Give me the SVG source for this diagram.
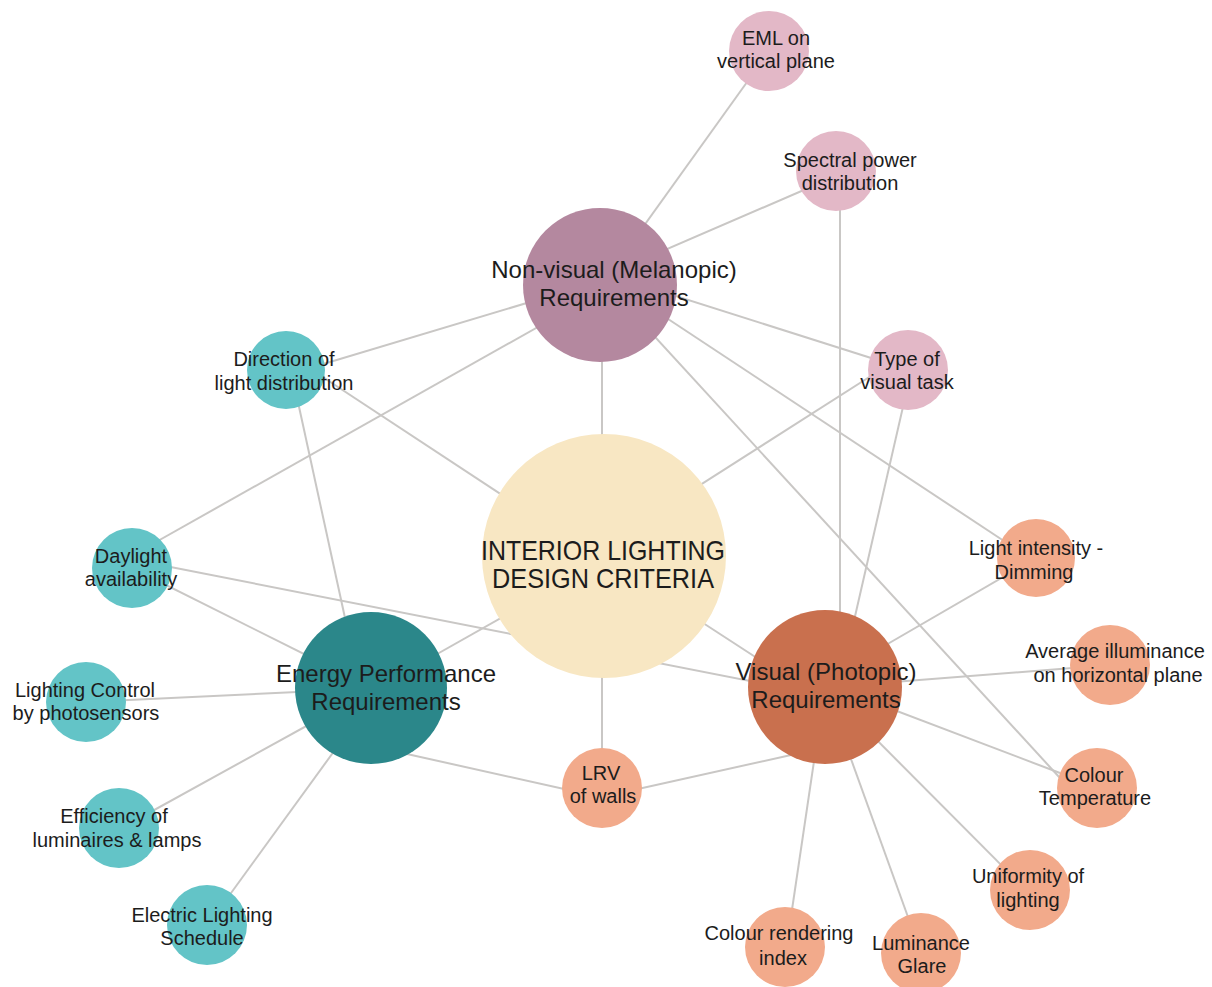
<svg xmlns="http://www.w3.org/2000/svg" width="1212" height="987" viewBox="0 0 1212 987">
<style>
.e{stroke:#C9C7C5;stroke-width:2;fill:none}
text{font-family:"Liberation Sans",Arial,sans-serif;fill:#1C1C1C;text-anchor:middle}
.s{font-size:20px}
.h{font-size:24px}
.teal{fill:#63C4C7}
.pink{fill:#E3B8C7}
.orng{fill:#F2AA8B}
</style>
<rect width="1212" height="987" fill="#FFFFFF"/>
<g id="connectors">
<line class="e" x1="600" y1="287" x2="760" y2="64"/>
<line class="e" x1="600" y1="278" x2="820" y2="183"/>
<line class="e" x1="600" y1="272" x2="890" y2="364"/>
<line class="e" x1="600" y1="274" x2="1010" y2="545"/>
<line class="e" x1="600" y1="277" x2="1060" y2="778"/>
<line class="e" x1="600" y1="281" x2="310" y2="368"/>
<line class="e" x1="600" y1="292" x2="140" y2="551"/>
<line class="e" x1="602" y1="300" x2="602" y2="470"/>
<line class="e" x1="650" y1="517" x2="885" y2="367"/>
<line class="e" x1="300" y1="362" x2="540" y2="520"/>
<line class="e" x1="400" y1="675" x2="540" y2="596"/>
<line class="e" x1="680" y1="608" x2="800" y2="686"/>
<line class="e" x1="602" y1="600" x2="602" y2="770"/>
<line class="e" x1="132" y1="568" x2="330" y2="667"/>
<line class="e" x1="140" y1="561" x2="780" y2="687"/>
<line class="e" x1="291" y1="370" x2="352" y2="650"/>
<line class="e" x1="86" y1="702" x2="340" y2="690"/>
<line class="e" x1="118" y1="830" x2="330" y2="713"/>
<line class="e" x1="210" y1="922" x2="340" y2="743"/>
<line class="e" x1="380" y1="748" x2="600" y2="797"/>
<line class="e" x1="602" y1="797" x2="800" y2="753"/>
<line class="e" x1="860" y1="660" x2="1036" y2="558"/>
<line class="e" x1="830" y1="687" x2="1110" y2="665"/>
<line class="e" x1="860" y1="697" x2="1060" y2="773"/>
<line class="e" x1="840" y1="703" x2="1028" y2="892"/>
<line class="e" x1="825" y1="687" x2="921" y2="953"/>
<line class="e" x1="825" y1="687" x2="785" y2="957"/>
<line class="e" x1="908" y1="385" x2="845" y2="660"/>
<line class="e" x1="840" y1="190" x2="840" y2="640"/>
</g>
<g id="center">
<circle cx="604" cy="556" r="122" fill="#F8E7C3"/>
<text x="603" y="560" font-size="28" textLength="244" lengthAdjust="spacingAndGlyphs">INTERIOR LIGHTING</text>
<text x="603" y="588" font-size="28" textLength="222" lengthAdjust="spacingAndGlyphs">DESIGN CRITERIA</text>
</g>
<g id="nonvisual">
<circle cx="600" cy="285" r="77" fill="#B4889F"/>
<text class="h" x="614" y="278">Non-visual (Melanopic)</text>
<text class="h" x="614" y="306">Requirements</text>
</g>
<g id="energy">
<circle cx="371" cy="688" r="76" fill="#2B878A"/>
<text class="h" x="386" y="682">Energy Performance</text>
<text class="h" x="386" y="710">Requirements</text>
</g>
<g id="visual">
<circle cx="825" cy="687" r="77" fill="#C9704E"/>
<text class="h" x="826" y="680">Visual (Photopic)</text>
<text class="h" x="826" y="708">Requirements</text>
</g>
<g id="eml">
<circle class="pink" cx="769" cy="51" r="40"/>
<text class="s" x="776" y="45">EML on</text>
<text class="s" x="776" y="68">vertical plane</text>
</g>
<g id="spectral">
<circle class="pink" cx="836" cy="171" r="40"/>
<text class="s" x="850" y="167">Spectral power</text>
<text class="s" x="850" y="190">distribution</text>
</g>
<g id="typetask">
<circle class="pink" cx="908" cy="370" r="40"/>
<text class="s" x="907" y="366">Type of</text>
<text class="s" x="907" y="389">visual task</text>
</g>
<g id="direction">
<circle class="teal" cx="286" cy="370" r="39"/>
<text class="s" x="284" y="366">Direction of</text>
<text class="s" x="284" y="390">light distribution</text>
</g>
<g id="daylight">
<circle class="teal" cx="132" cy="568" r="40"/>
<text class="s" x="131" y="563">Daylight</text>
<text class="s" x="131" y="586">availability</text>
</g>
<g id="lightingcontrol">
<circle class="teal" cx="86" cy="702" r="40"/>
<text class="s" x="85" y="697">Lighting Control</text>
<text class="s" x="86" y="720">by photosensors</text>
</g>
<g id="efficiency">
<circle class="teal" cx="119" cy="828" r="40"/>
<text class="s" x="114" y="823">Efficiency of</text>
<text class="s" x="117" y="847">luminaires &amp; lamps</text>
</g>
<g id="schedule">
<circle class="teal" cx="207" cy="925" r="40"/>
<text class="s" x="202" y="922">Electric Lighting</text>
<text class="s" x="202" y="945">Schedule</text>
</g>
<g id="lrv">
<circle class="orng" cx="602" cy="788" r="40"/>
<text class="s" x="601" y="780">LRV</text>
<text class="s" x="603" y="803">of walls</text>
</g>
<g id="lightintensity">
<circle class="orng" cx="1036" cy="558" r="39"/>
<text class="s" x="1036" y="555">Light intensity -</text>
<text class="s" x="1034" y="579">Dimming</text>
</g>
<g id="average">
<circle class="orng" cx="1110" cy="665" r="40"/>
<text class="s" x="1115" y="658">Average illuminance</text>
<text class="s" x="1118" y="682">on horizontal plane</text>
</g>
<g id="colourtemp">
<circle class="orng" cx="1097" cy="788" r="40"/>
<text class="s" x="1094" y="782">Colour</text>
<text class="s" x="1095" y="805">Temperature</text>
</g>
<g id="uniformity">
<circle class="orng" cx="1030" cy="890" r="40"/>
<text class="s" x="1028" y="883">Uniformity of</text>
<text class="s" x="1028" y="907">lighting</text>
</g>
<g id="glare">
<circle class="orng" cx="921" cy="953" r="40"/>
<text class="s" x="921" y="950">Luminance</text>
<text class="s" x="922" y="973">Glare</text>
</g>
<g id="cri">
<circle class="orng" cx="785" cy="947" r="40"/>
<text class="s" x="779" y="940">Colour rendering</text>
<text class="s" x="783" y="965">index</text>
</g>
</svg>
